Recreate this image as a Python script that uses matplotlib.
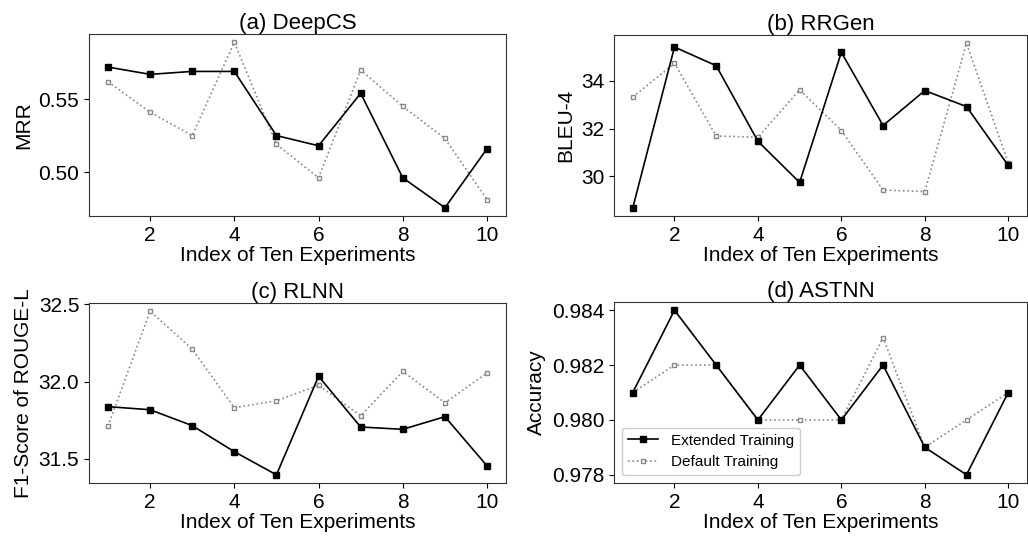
import numpy as np
import matplotlib
matplotlib.use('Agg')
import matplotlib.pyplot as plt

plt.rcParams['font.family'] = ['Liberation Sans', 'DejaVu Sans']
plt.rcParams['font.size'] = 15

experiments = np.arange(1, 11)

# (a) DeepCS - MRR
deepcs_ext = [0.572, 0.567, 0.569, 0.569, 0.525, 0.518, 0.554, 0.496, 0.4755, 0.516]
deepcs_def = [0.562, 0.541, 0.525, 0.589, 0.519, 0.496, 0.570, 0.545, 0.523, 0.481]

# (b) RRGen - BLEU-4
rrgen_ext = [28.69, 35.41, 34.63, 31.47, 29.75, 35.19, 32.13, 33.59, 32.92, 30.46]
rrgen_def = [33.32, 34.73, 31.69, 31.64, 33.62, 31.92, 29.43, 29.37, 35.57, 30.57]

# (c) RLNN - F1-Score of ROUGE-L
rlnn_ext = [31.837, 31.817, 31.714, 31.545, 31.395, 32.034, 31.705, 31.69, 31.772, 31.453]
rlnn_def = [31.71, 32.456, 32.21, 31.83, 31.875, 31.976, 31.778, 32.065, 31.862, 32.056]

# (d) ASTNN - Accuracy
astnn_ext = [0.981, 0.984, 0.982, 0.980, 0.982, 0.980, 0.982, 0.979, 0.978, 0.981]
astnn_def = [0.981, 0.982, 0.982, 0.980, 0.980, 0.980, 0.983, 0.979, 0.980, 0.981]

panels = [
    ('(a) DeepCS', 'MRR', deepcs_ext, deepcs_def, [0.50, 0.55], '%.2f'),
    ('(b) RRGen', 'BLEU-4', rrgen_ext, rrgen_def, [30, 32, 34], '%d'),
    ('(c) RLNN', 'F1-Score of ROUGE-L', rlnn_ext, rlnn_def, [31.5, 32.0, 32.5], '%.1f'),
    ('(d) ASTNN', 'Accuracy', astnn_ext, astnn_def, [0.978, 0.980, 0.982, 0.984], '%.3f'),
]

fig = plt.figure(figsize=(10.28, 5.40), dpi=100)
W, H = 1028, 540
boxes = [(89, 34, 506, 216), (614, 35, 1027, 216), (89, 303, 506, 483), (614, 302, 1027, 483)]

for (title, ylabel, ext, dflt, yticks, fmt), (l, t, r, b) in zip(panels, boxes):
    ax = fig.add_axes([l / W, 1 - b / H, (r - l) / W, (b - t) / H])
    ax.plot(experiments, ext, color='black', linestyle='-', linewidth=1.2,
            marker='s', markersize=4.5, label='Extended Training', zorder=3)
    ax.plot(experiments, dflt, color='#888888', linestyle=':', linewidth=1.2,
            marker='s', markersize=3.5, markerfacecolor='white', markeredgecolor='#888888',
            markeredgewidth=1.0, label='Default Training', zorder=2)
    ax.set_title(title, fontsize=16, pad=3)
    ax.set_ylabel(ylabel)
    ax.set_xlabel('Index of Ten Experiments', labelpad=1)
    ax.set_xticks([2, 4, 6, 8, 10])
    ax.set_yticks(yticks)
    ax.yaxis.set_major_formatter(matplotlib.ticker.FormatStrFormatter(fmt))
    for s in ax.spines.values():
        s.set_color('#333333')
    if title.startswith('(d)'):
        ax.legend(loc='lower left', fontsize=11, framealpha=1)

plt.savefig('out.png', dpi=100)
